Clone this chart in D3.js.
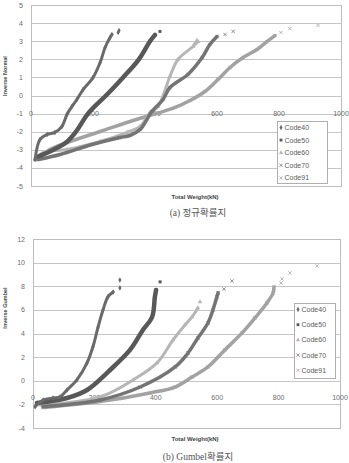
<!DOCTYPE html>
<html>
<head>
<meta charset="utf-8">
<script src="https://cdn.jsdelivr.net/npm/d3@7"></script>
<style>
  body { margin: 0; background: #fff; }
  svg { display: block; }
  text { font-family: "Liberation Sans", "DejaVu Sans", sans-serif; }
</style>
</head>
<body>
<svg id="chart" width="349" height="463"></svg>
<script>
// series names and legend
let codes = ['Code40', 'Code50', 'Code60', 'Code70', 'Code91'];

// (a) inverse normal, [total weight kN, z]
let normal40 = [[13, -3.54], [29, -2.43], [52, -2.15], [77, -2.04], [100, -1.71], [116, -1.05], [132, -0.61],
  [148, -0.22], [168, 0.33], [200, 0.99], [223, 1.82], [239, 2.65], [255, 3.2], [261, 3.37]];
let normal50 = [[23, -3.37], [61, -3.09], [113, -2.6], [145, -2.0], [184, -1.0], [242, 0], [297, 1.0],
  [348, 2.0], [384, 3.0], [400, 3.35]];
let normal60 = [[13, -3.54], [39, -3.15], [116, -2.98], [223, -2.54], [310, -2.04], [352, -1.71], [384, -0.94],
  [410, -0.61], [448, 1.05], [474, 1.99], [523, 2.71], [539, 2.98]];
let normal70 = [[23, -3.54], [94, -3.26], [197, -2.71], [287, -2.32], [319, -2.21], [352, -1.88], [390, -0.88],
  [426, -0.22], [448, 0.44], [506, 1.16], [552, 2.1], [577, 2.82], [600, 3.26]];
let normal91 = [[16, -3.54], [61, -2.98], [116, -2.6], [223, -1.99], [329, -1.38], [406, -0.99], [465, -0.66],
  [513, -0.28], [561, 0.22], [603, 0.88], [642, 1.55], [684, 2.1], [729, 2.54], [761, 2.98], [787, 3.31]];
// last few points that stand apart from the dense run
let normalTail40 = [[281, 3.48], [284, 3.59]];
let normalTail50 = [[416, 3.54]];
let normalTail60 = [[527, 2.85], [535, 3.05]];
let normalTail70 = [[626, 3.37], [652, 3.54]];
let normalTail91 = [[806, 3.48], [835, 3.7], [926, 3.87]];

// (b) inverse gumbel, [total weight kN, g]
let gumbel40 = [[7, -2.19], [33, -1.63], [65, -1.46], [88, -1.37], [111, -0.78], [143, 0.07], [176, 1.51],
  [195, 2.86], [212, 4.55], [228, 5.99], [244, 7.1], [261, 7.52]];
let gumbel50 = [[13, -1.88], [111, -1.46], [176, -0.78], [251, 0.91], [316, 2.61], [358, 4.3], [388, 5.4],
  [397, 7.1], [401, 7.69]];
let gumbel60 = [[23, -2.05], [218, -1.37], [326, 0.07], [404, 1.51], [456, 3.45], [495, 4.72], [518, 5.4],
  [537, 6.16]];
let gumbel70 = [[33, -2.19], [218, -1.63], [349, -0.53], [463, 1.17], [505, 2.35], [537, 3.62], [570, 4.89],
  [586, 5.99], [599, 7.1], [603, 7.44]];
let gumbel91 = [[33, -2.27], [218, -1.76], [381, -1.03], [463, -0.53], [518, 0.32], [570, 1.17], [625, 2.61],
  [681, 4.05], [723, 5.32], [762, 6.59], [782, 7.43], [785, 7.94]];
let gumbelTail40 = [[283, 7.86], [283, 8.53]];
let gumbelTail50 = [[414, 8.37]];
let gumbelTail60 = [[544, 6.67]];
let gumbelTail70 = [[622, 7.77], [648, 8.45]];
let gumbelTail91 = [[808, 8.28], [811, 8.62], [837, 9.13], [925, 9.72]];

let xTicks = [0, 200, 400, 600, 800, 1000];
let normalTicks = [-5, -4, -3, -2, -1, 0, 1, 2, 3, 4, 5];
let gumbelTicks = [-4, -2, 0, 2, 4, 6, 8, 10, 12];

// look of each series
let colors = ['#6a6a6a', '#585858', '#b6b6b6', '#747474', '#a2a2a2'];
let widths = [3, 4.5, 3, 3.5, 3.5];
let symbols = [d3.symbolDiamond, d3.symbolSquare, d3.symbolTriangle, d3.symbolTimes, d3.symbolTimes];

let svg = d3.select('#chart');

let panels = [
  {
    series: [normal40, normal50, normal60, normal70, normal91],
    tails: [normalTail40, normalTail50, normalTail60, normalTail70, normalTail91],
    ticks: normalTicks,
    left: 31, right: 341, top: 5, bottom: 186,
    title: 'Inverse Normal', titleY: 76,
    xTitleY: 199, caption: '(a) 정규확률지', captionY: 216,
    legend: { x: 277, y: 121, w: 50, h: 62, step: 12.6 },
    labelOffset: 20
  },
  {
    series: [gumbel40, gumbel50, gumbel60, gumbel70, gumbel91],
    tails: [gumbelTail40, gumbelTail50, gumbelTail60, gumbelTail70, gumbelTail91],
    ticks: gumbelTicks,
    left: 33, right: 340, top: 239, bottom: 428,
    title: 'Inverse Gumbel', titleY: 308,
    xTitleY: 441, caption: '(b) Gumbel확률지', captionY: 460,
    legend: { x: 294, y: 303, w: 41, h: 75, step: 15.2 },
    labelOffset: 19.5
  }
];

for (let p of panels) {
  drawPanel(p);
}

function drawPanel(p) {
  let x = d3.scaleLinear().domain([0, 1000]).range([p.left, p.right]);
  let y = d3.scaleLinear()
    .domain([p.ticks[0], p.ticks[p.ticks.length - 1]])
    .range([p.bottom, p.top]);

  let g = svg.append('g');

  // grid
  g.selectAll('.grid')
    .data(p.ticks)
    .enter()
    .append('line')
    .attr('x1', p.left)
    .attr('x2', p.right)
    .attr('y1', (d) => Math.round(y(d)) + 0.5)
    .attr('y2', (d) => Math.round(y(d)) + 0.5)
    .attr('stroke', '#c6c6c6')
    .attr('stroke-width', 1);

  g.append('rect')
    .attr('x', p.left + 0.5)
    .attr('y', p.top + 0.5)
    .attr('width', p.right - p.left)
    .attr('height', p.bottom - p.top)
    .attr('fill', 'none')
    .attr('stroke', '#bdbdbd');

  // y tick labels
  g.selectAll('.ylab')
    .data(p.ticks)
    .enter()
    .append('text')
    .text((d) => d)
    .attr('x', p.left - 8)
    .attr('y', (d) => y(d) + 2.5)
    .attr('text-anchor', 'end')
    .style('font-size', '7px')
    .attr('fill', '#6c6c6c');

  // x tick labels sit below the zero line
  g.selectAll('.xlab')
    .data(xTicks)
    .enter()
    .append('text')
    .text((d) => d)
    .attr('x', (d) => x(d))
    .attr('y', y(0) + p.labelOffset)
    .attr('text-anchor', 'middle')
    .style('font-size', '7px')
    .attr('fill', '#6c6c6c');

  let line = d3.line()
    .x((d) => x(d[0]))
    .y((d) => y(d[1]))
    .curve(d3.curveCatmullRom);

  // draw lighter series first, like the picture
  let order = [4, 2, 3, 1, 0];

  for (let i of order) {
    let s = p.series[i];

    g.append('path')
      .datum(s)
      .attr('d', line)
      .attr('fill', 'none')
      .attr('stroke', colors[i])
      .attr('stroke-width', widths[i])
      .attr('stroke-linecap', 'round')
      .attr('stroke-linejoin', 'round');

    let pts = s.concat(p.tails[i]);

    g.selectAll('.pt' + i)
      .data(pts)
      .enter()
      .append('path')
      .attr('transform', (d) => `translate(${x(d[0])},${y(d[1])})`)
      .attr('d', d3.symbol().type(symbols[i]).size(9))
      .attr('fill', i < 3 ? colors[i] : 'none')
      .attr('stroke', i < 3 ? 'none' : colors[i])
      .attr('stroke-width', 0.8);
  }

  // axis titles
  g.append('text')
    .text(p.title)
    .attr('transform', `translate(7,${p.titleY}) rotate(-90)`)
    .attr('text-anchor', 'middle')
    .style('font-size', '5.5px')
    .style('font-weight', 'bold')
    .attr('fill', '#444');

  g.append('text')
    .text('Total Weight(kN)')
    .attr('x', 195)
    .attr('y', p.xTitleY)
    .attr('text-anchor', 'middle')
    .style('font-size', '6px')
    .style('font-weight', 'bold')
    .attr('fill', '#444');

  g.append('text')
    .text(p.caption)
    .attr('x', 198)
    .attr('y', p.captionY)
    .attr('text-anchor', 'middle')
    .style('font-family', '"Liberation Serif", "Noto Sans CJK KR", serif')
    .style('font-size', '9.5px')
    .attr('fill', '#555');

  // legend
  let L = p.legend;
  g.append('rect')
    .attr('x', L.x + 0.5)
    .attr('y', L.y + 0.5)
    .attr('width', L.w)
    .attr('height', L.h)
    .attr('fill', '#fff')
    .attr('stroke', '#b0b0b0');

  let items = g.selectAll('.leg')
    .data(codes)
    .enter()
    .append('g')
    .attr('transform', (d, i) => `translate(${L.x + 4},${L.y + 6.5 + i * L.step})`);

  items.append('path')
    .attr('d', (d, i) => d3.symbol().type(symbols[i]).size(8)())
    .attr('fill', (d, i) => i < 3 ? colors[i] : 'none')
    .attr('stroke', (d, i) => i < 3 ? 'none' : colors[i])
    .attr('stroke-width', 0.8);

  items.append('text')
    .text((d) => d)
    .attr('x', 3.5)
    .attr('y', 2.5)
    .style('font-size', '7px')
    .attr('fill', '#5a5a5a');
}
</script>
</body>
</html>
